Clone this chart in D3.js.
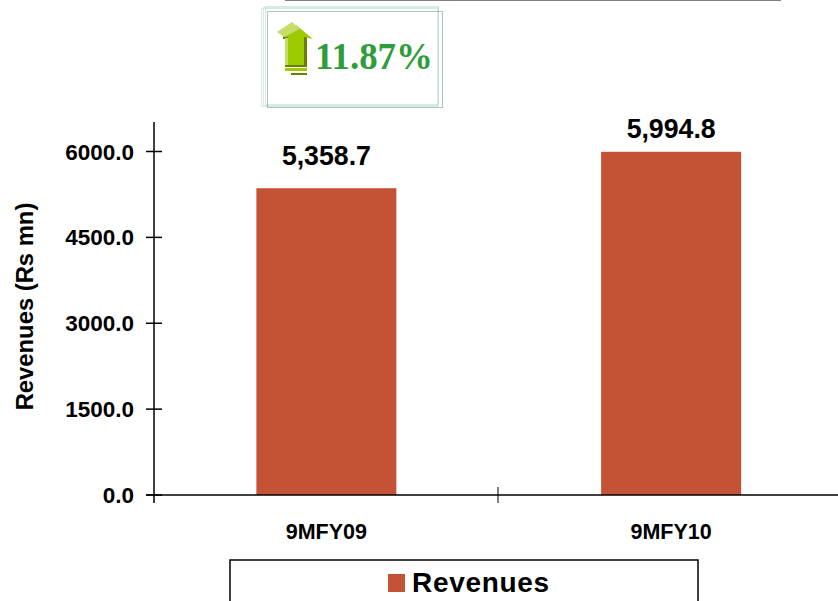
<!DOCTYPE html>
<html>
<head>
<meta charset="utf-8">
<script src="https://cdn.jsdelivr.net/npm/d3@7"></script>
<style>
  html, body { margin: 0; padding: 0; background: #fff; overflow: hidden; }
  text { font-family: "Liberation Sans", Arial, sans-serif; font-weight: bold; fill: #000; }
</style>
</head>
<body>
<div id="container"></div>
<script>
var categories = ["9MFY09", "9MFY10"];
var revenues = [5358.7, 5994.8];
var value_labels = ["5,358.7", "5,994.8"];
var y_ticks = [0, 1500, 3000, 4500, 6000];
var series_name = "Revenues";
var y_title = "Revenues (Rs mn)";
var growth_label = "11.87%";

const width = 838;
const height = 601;

const svg = d3.select("div#container").append("svg")
    .attr("width", width)
    .attr("height", height)
    .style("display", "block");

//----------------------------SCALES----------------------------//
const xScale = d3.scaleBand().domain(categories).range([154, 843.5]);
const yScale = d3.scaleLinear().domain([0, 6000]).range([495, 151.5]);
const bar_width = 140;

//-----------------------------BARS-----------------------------//
svg.selectAll("rect.bar")
    .data(revenues)
    .enter()
    .append("rect")
    .attr("class", "bar")
    .attr("x", function(d, i) { return xScale(categories[i]) + xScale.bandwidth() / 2 - bar_width / 2; })
    .attr("y", function(d) { return yScale(d); })
    .attr("width", bar_width)
    .attr("height", function(d) { return yScale(0) - yScale(d); })
    .attr("fill", "#c45336");

// the labels don't sit the same distance above their bars
const label_gap = [23, 14];
svg.selectAll("text.value")
    .data(revenues)
    .enter()
    .append("text")
    .attr("class", "value")
    .attr("x", function(d, i) { return xScale(categories[i]) + xScale.bandwidth() / 2; })
    .attr("y", function(d, i) { return yScale(d) - label_gap[i]; })
    .attr("text-anchor", "middle")
    .attr("font-size", 28)
    .attr("textLength", 89)
    .attr("lengthAdjust", "spacingAndGlyphs")
    .text(function(d, i) { return value_labels[i]; });

//-----------------------------AXES-----------------------------//
const yaxis = svg.append("g");
yaxis.append("line")
    .attr("x1", 154).attr("x2", 154)
    .attr("y1", 122).attr("y2", 503)
    .attr("stroke", "#000").attr("stroke-width", 1.5);

yaxis.selectAll("line.tick")
    .data(y_ticks)
    .enter()
    .append("line")
    .attr("class", "tick")
    .attr("x1", 146).attr("x2", 162)
    .attr("y1", function(d) { return yScale(d); })
    .attr("y2", function(d) { return yScale(d); })
    .attr("stroke", "#000").attr("stroke-width", 1.5);

yaxis.selectAll("text")
    .data(y_ticks)
    .enter()
    .append("text")
    .attr("x", 134)
    .attr("y", function(d) { return yScale(d) + 8; })
    .attr("text-anchor", "end")
    .attr("font-size", 22.5)
    .text(function(d) { return d3.format(".1f")(d); });

svg.append("line")
    .attr("x1", 146).attr("x2", 838)
    .attr("y1", yScale(0)).attr("y2", yScale(0))
    .attr("stroke", "#000").attr("stroke-width", 1.5);

// tick between the two categories
svg.append("line")
    .attr("x1", 498).attr("x2", 498)
    .attr("y1", 487).attr("y2", 503)
    .attr("stroke", "#000").attr("stroke-width", 1);

svg.selectAll("text.cat")
    .data(categories)
    .enter()
    .append("text")
    .attr("class", "cat")
    .attr("x", function(d) { return xScale(d) + xScale.bandwidth() / 2; })
    .attr("y", 539)
    .attr("text-anchor", "middle")
    .attr("font-size", 21.5)
    .text(function(d) { return d; });

svg.append("text")
    .attr("transform", "translate(33,306.5) rotate(-90)")
    .attr("text-anchor", "middle")
    .attr("font-size", 23.8)
    .text(y_title);

//----------------------------LEGEND----------------------------//
svg.append("path")
    .attr("d", "M230,601V560H698V601")
    .attr("fill", "none").attr("stroke", "#000").attr("stroke-width", 1.5);
svg.append("rect")
    .attr("x", 388).attr("y", 574).attr("width", 17).attr("height", 18)
    .attr("fill", "#c45336");
svg.append("text")
    .attr("x", 412).attr("y", 592)
    .attr("font-size", 28)
    .attr("letter-spacing", 0.7)
    .text(series_name);

//-------------------------GROWTH BOX---------------------------//
svg.append("line")
    .attr("x1", 285).attr("x2", 781).attr("y1", 0).attr("y2", 0)
    .attr("stroke", "#808080").attr("stroke-width", 2);

const frames = [[261, 8, 176, 98], [263, 7, 175, 98], [265, 6, 173, 98], [267, 11, 175, 96]];
svg.selectAll("rect.frame")
    .data(frames)
    .enter()
    .append("rect")
    .attr("class", "frame")
    .attr("x", function(d) { return d[0] + 0.5; })
    .attr("y", function(d) { return d[1] + 0.5; })
    .attr("width", function(d) { return d[2]; })
    .attr("height", function(d) { return d[3]; })
    .attr("fill", "none")
    .attr("stroke", function(d, i) { return i == 3 ? "#5f8a7b" : "#a9d8c6"; })
    .attr("stroke-width", 1)
    .attr("stroke-dasharray", "1 1");

// arrow icon
const arrow = svg.append("g");
arrow.append("rect").attr("x", 291).attr("y", 73).attr("width", 16).attr("height", 2).attr("fill", "#6b8000");
arrow.append("rect").attr("x", 304).attr("y", 37).attr("width", 3).attr("height", 30).attr("fill", "#6b7c10");
arrow.append("rect").attr("x", 283).attr("y", 36).attr("width", 5).attr("height", 3).attr("fill", "#6b7c10");
arrow.append("rect").attr("x", 285).attr("y", 38).attr("width", 4).attr("height", 28).attr("fill", "#c5dd6a");
arrow.append("polygon").attr("points", "283,37 296,25 313,39 304,37 288,37")
    .attr("fill", "#9ccb00");
arrow.append("polygon").attr("points", "277,32 292,22 300,29 284,37")
    .attr("fill", "#c5dd6a");
arrow.append("rect").attr("x", 288).attr("y", 36).attr("width", 16).attr("height", 30).attr("fill", "#9ccb00");
arrow.append("rect").attr("x", 285).attr("y", 65).attr("width", 20).attr("height", 2).attr("fill", "#6b8000");
arrow.append("rect").attr("x", 285).attr("y", 68).attr("width", 22).attr("height", 3).attr("fill", "#9ccb00");

svg.append("text")
    .attr("x", 315).attr("y", 69)
    .attr("font-size", 37)
    .style("font-family", "'Liberation Serif', 'DejaVu Serif', serif")
    .style("fill", "#2f9e3a")
    .attr("textLength", 118)
    .attr("lengthAdjust", "spacingAndGlyphs")
    .text(growth_label);
</script>
</body>
</html>
